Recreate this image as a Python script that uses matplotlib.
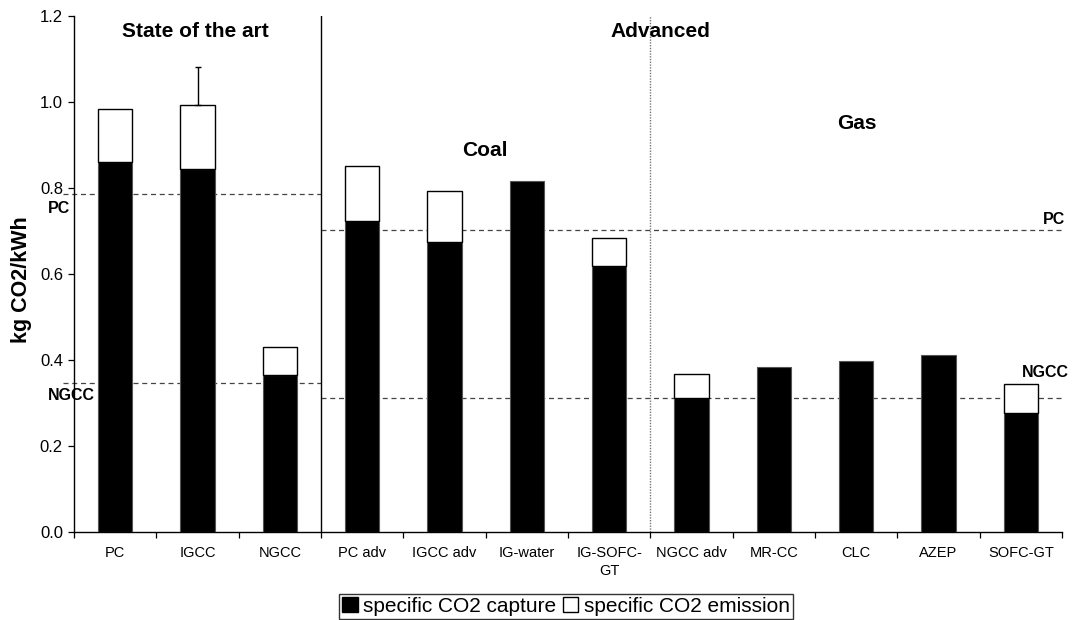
import matplotlib
matplotlib.use('Agg')
import matplotlib.pyplot as plt
from matplotlib.patches import Patch
import numpy as np

plt.rcParams['font.family'] = ['Liberation Sans', 'DejaVu Sans']

categories = ['PC', 'IGCC', 'NGCC', 'PC adv', 'IGCC adv', 'IG-water', 'IG-SOFC-\nGT',
              'NGCC adv', 'MR-CC', 'CLC', 'AZEP', 'SOFC-GT']
capture = [0.861, 0.844, 0.366, 0.724, 0.674, 0.817, 0.619, 0.312, 0.384, 0.398, 0.412, 0.277]
emission = [0.123, 0.148, 0.064, 0.127, 0.118, 0.0, 0.065, 0.055, 0.0, 0.0, 0.0, 0.068]
igcc_err_upper = 0.089
ref_state_pc = 0.785
ref_state_ngcc = 0.347
ref_adv_pc = 0.702
ref_adv_ngcc = 0.311
yticks = [0.0, 0.2, 0.4, 0.6, 0.8, 1.0, 1.2]

fig = plt.figure(figsize=(10.75, 6.2), dpi=100)
ax = fig.add_axes([74/1075, 1 - 532/620, (1062 - 74)/1075, (532 - 16)/620])

x = np.arange(len(categories))
w = 0.42
ax.bar(x, capture, width=w, color='black', edgecolor='#555555', linewidth=0.8, zorder=3)
em = np.array(emission)
mask = em > 0
ax.bar(x[mask], em[mask], width=w, bottom=np.array(capture)[mask], color='white',
       edgecolor='black', linewidth=1.0, zorder=3)

# error bar on IGCC
i = categories.index('IGCC')
top = capture[i] + emission[i]
ax.errorbar([x[i]], [top], yerr=[[0], [igcc_err_upper]], fmt='none', ecolor='black',
            elinewidth=1.0, capsize=2.5, capthick=1.0, zorder=4)

# reference lines
dash = (0, (4, 3))
ax.plot([-0.63, 2.5], [ref_state_pc] * 2, ls=dash, color='#444444', lw=0.9, clip_on=False, zorder=2)
ax.plot([-0.63, 2.5], [ref_state_ngcc] * 2, ls=dash, color='#444444', lw=0.9, clip_on=False, zorder=2)
ax.plot([2.5, 11.5], [ref_adv_pc] * 2, ls=dash, color='#444444', lw=0.9, clip_on=False, zorder=2)
ax.plot([2.5, 11.53], [ref_adv_ngcc] * 2, ls=dash, color='#444444', lw=0.9, clip_on=False, zorder=2)

# separators
ax.axvline(2.5, color='black', lw=1.0, zorder=2)
ax.axvline(6.5, color='#777777', lw=1.0, ls=(0, (1, 1)), zorder=2)

ax.set_xlim(-0.5, 11.5)
ax.set_ylim(0, 1.2)
ax.set_yticks(yticks)
ax.set_yticklabels([f'{v:.1f}' for v in yticks], fontsize=12)
ax.set_xticks(np.arange(-0.5, 12, 1.0))
ax.set_xticklabels([])
ax.set_xticks(x, minor=True)
ax.set_xticklabels(categories, minor=True, fontsize=10.5, linespacing=1.35)
ax.tick_params(axis='x', which='major', length=4, direction='out', width=0.9)
ax.tick_params(axis='x', which='minor', length=0, pad=10)
ax.tick_params(axis='y', length=4, direction='out', width=0.9, pad=4)
for s in ['top', 'right']:
    ax.spines[s].set_visible(False)
for s in ['left', 'bottom']:
    ax.spines[s].set_linewidth(1.0)

ax.set_ylabel('kg CO2/kWh', fontsize=15.5, fontweight='bold')
ax.yaxis.set_label_coords(-0.043, 0.49)

ax.text(0.98, 1.163, 'State of the art', ha='center', va='center', fontsize=15, fontweight='bold')
ax.text(6.62, 1.163, 'Advanced', ha='center', va='center', fontsize=15, fontweight='bold')
ax.text(4.49, 0.888, 'Coal', ha='center', va='center', fontsize=15, fontweight='bold')
ax.text(9.01, 0.951, 'Gas', ha='center', va='center', fontsize=15, fontweight='bold')

ax.text(-0.68, 0.752, 'PC', ha='center', va='center', fontsize=11.5, fontweight='bold', clip_on=False)
ax.text(-0.53, 0.317, 'NGCC', ha='center', va='center', fontsize=11.5, fontweight='bold', clip_on=False)
ax.text(11.40, 0.726, 'PC', ha='center', va='center', fontsize=11.5, fontweight='bold', clip_on=False)
ax.text(11.30, 0.372, 'NGCC', ha='center', va='center', fontsize=11.5, fontweight='bold', clip_on=False)

handles = [Patch(facecolor='black', edgecolor='black', label='specific CO2 capture'),
           Patch(facecolor='white', edgecolor='black', label='specific CO2 emission')]
leg = fig.legend(handles=handles, loc='lower center', bbox_to_anchor=(566/1075, 1/620), ncol=2,
                 fontsize=15, frameon=True, fancybox=False, edgecolor='black',
                 handlelength=0.75, handleheight=0.75, handletextpad=0.25, columnspacing=0.3,
                 borderpad=0.15, borderaxespad=0)
leg.get_frame().set_linewidth(1.0)

fig.savefig('out.png', dpi=100)
